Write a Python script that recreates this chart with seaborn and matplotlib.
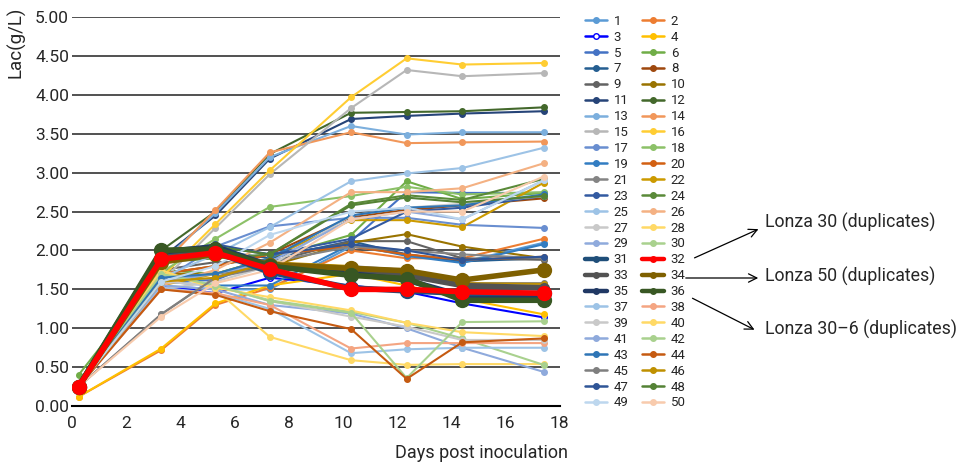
import matplotlib
matplotlib.use("Agg")
import matplotlib.pyplot as plt
from matplotlib.lines import Line2D
import seaborn as sns
import pandas as pd

sns.set_style("white")
plt.rcParams['font.family'] = ['Roboto', 'DejaVu Sans']

days = [0.25, 3.3, 5.3, 7.3, 10.3, 12.35, 14.4, 17.4]

lac_01 = [0.25, 1.55, 1.50, 1.50, 2.05, 1.95, 1.85, 2.10]
lac_02 = [0.12, 0.72, 1.30, 1.52, 2.00, 1.90, 1.90, 2.15]
lac_03 = [0.25, 1.55, 1.45, 1.65, 1.55, 1.47, 1.32, 1.14]
lac_04 = [0.12, 0.74, 1.32, 1.55, 1.70, 1.55, 1.38, 1.18]
lac_05 = [0.25, 1.60, 1.62, 1.90, 2.12, 2.75, 2.74, 2.74]
lac_06 = [0.40, 1.75, 1.70, 1.90, 2.20, 2.89, 2.66, 2.74]
lac_07 = [0.25, 1.90, 2.00, 1.90, 2.12, 1.95, 1.86, 1.90]
lac_08 = [0.25, 1.70, 1.80, 1.95, 2.43, 2.52, 2.58, 2.67]
lac_09 = [0.25, 1.75, 1.85, 1.85, 2.12, 2.12, 1.90, 1.88]
lac_10 = [0.25, 1.70, 1.70, 1.80, 2.10, 2.21, 2.05, 1.90]
lac_11 = [0.25, 1.90, 2.45, 3.18, 3.69, 3.73, 3.76, 3.79]
lac_12 = [0.25, 2.00, 2.50, 3.24, 3.77, 3.78, 3.79, 3.84]
lac_13 = [0.25, 1.85, 2.48, 3.20, 3.60, 3.49, 3.52, 3.52]
lac_14 = [0.25, 1.80, 2.52, 3.26, 3.52, 3.38, 3.39, 3.40]
lac_15 = [0.25, 1.60, 2.29, 2.98, 3.83, 4.32, 4.24, 4.28]
lac_16 = [0.25, 1.65, 2.34, 3.03, 3.97, 4.47, 4.39, 4.41]
lac_17 = [0.25, 1.60, 2.05, 2.31, 2.42, 2.42, 2.33, 2.29]
lac_18 = [0.25, 1.72, 2.15, 2.56, 2.70, 2.82, 2.72, 2.75]
lac_19 = [0.25, 1.60, 1.55, 1.55, 2.08, 1.93, 1.84, 2.08]
lac_20 = [0.25, 1.70, 1.80, 1.95, 2.05, 1.95, 1.88, 1.92]
lac_21 = [0.25, 1.18, 1.66, 1.85, 2.05, 2.00, 1.95, 1.90]
lac_22 = [0.25, 1.55, 1.70, 1.90, 2.39, 2.39, 2.30, 2.87]
lac_23 = [0.25, 1.95, 2.05, 1.95, 2.15, 2.50, 2.55, 2.70]
lac_24 = [0.25, 1.85, 1.90, 1.95, 2.60, 2.71, 2.65, 2.92]
lac_25 = [0.25, 1.65, 1.95, 2.30, 2.89, 2.99, 3.06, 3.32]
lac_26 = [0.25, 1.55, 1.75, 2.10, 2.75, 2.75, 2.80, 3.12]
lac_27 = [0.25, 1.50, 1.60, 1.80, 2.45, 2.55, 2.60, 2.70]
lac_28 = [0.25, 1.75, 1.50, 0.89, 0.59, 0.53, 0.54, 0.54]
lac_29 = [0.25, 1.55, 1.50, 1.30, 1.19, 1.00, 0.75, 0.44]
lac_30 = [0.25, 1.70, 1.55, 1.36, 1.21, 1.07, 0.87, 0.53]
lac_31 = [0.25, 1.88, 1.98, 1.72, 1.52, 1.48, 1.45, 1.45]
lac_32 = [0.25, 1.89, 1.97, 1.76, 1.50, 1.50, 1.47, 1.45]
lac_33 = [0.25, 1.95, 2.02, 1.82, 1.72, 1.68, 1.55, 1.52]
lac_34 = [0.25, 1.85, 1.95, 1.82, 1.77, 1.74, 1.62, 1.75]
lac_35 = [0.25, 1.98, 2.05, 1.80, 1.70, 1.62, 1.42, 1.40]
lac_36 = [0.25, 2.00, 2.02, 1.80, 1.68, 1.64, 1.36, 1.36]
lac_37 = [0.25, 1.52, 1.45, 1.25, 0.68, 0.73, 0.75, 0.75]
lac_38 = [0.25, 1.50, 1.45, 1.30, 0.74, 0.81, 0.81, 0.81]
lac_39 = [0.25, 1.60, 1.55, 1.35, 1.15, 1.02, 0.85, 0.85]
lac_40 = [0.25, 1.72, 1.52, 1.40, 1.23, 1.07, 0.95, 0.90]
lac_41 = [0.25, 1.60, 1.70, 1.85, 2.40, 2.50, 2.40, 2.90]
lac_42 = [0.25, 1.70, 1.55, 1.35, 1.20, 0.36, 1.08, 1.09]
lac_43 = [0.25, 1.65, 1.70, 1.90, 2.45, 2.55, 2.58, 2.72]
lac_44 = [0.25, 1.50, 1.43, 1.22, 0.99, 0.35, 0.82, 0.87]
lac_45 = [0.25, 1.18, 1.65, 1.80, 1.80, 1.75, 1.58, 1.58]
lac_46 = [0.25, 1.60, 1.65, 1.85, 1.80, 1.72, 1.58, 1.57]
lac_47 = [0.25, 1.95, 2.08, 1.95, 2.08, 2.00, 1.88, 1.92]
lac_48 = [0.25, 2.02, 2.05, 1.95, 2.58, 2.68, 2.62, 2.70]
lac_49 = [0.25, 1.60, 1.80, 2.20, 2.50, 2.55, 2.40, 2.90]
lac_50 = [0.25, 1.15, 1.58, 1.75, 2.40, 2.50, 2.50, 2.95]

series_values = [lac_01, lac_02, lac_03, lac_04, lac_05, lac_06, lac_07, lac_08, lac_09, lac_10,
                 lac_11, lac_12, lac_13, lac_14, lac_15, lac_16, lac_17, lac_18, lac_19, lac_20,
                 lac_21, lac_22, lac_23, lac_24, lac_25, lac_26, lac_27, lac_28, lac_29, lac_30,
                 lac_31, lac_32, lac_33, lac_34, lac_35, lac_36, lac_37, lac_38, lac_39, lac_40,
                 lac_41, lac_42, lac_43, lac_44, lac_45, lac_46, lac_47, lac_48, lac_49, lac_50]
series_names = [str(i) for i in range(1, 51)]

colors = ["#5B9BD5", "#ED7D31", "#0000FF", "#FFC000", "#4472C4", "#70AD47", "#255E91", "#9E480E",
          "#636363", "#997300", "#264478", "#43682B", "#7CAFDD", "#F1975A", "#B7B7B7", "#FFCD33",
          "#698ED0", "#8CC168", "#327DC2", "#D26012", "#848484", "#CC9A00", "#335AA1", "#5A8A39",
          "#9DC3E6", "#F4B183", "#C9C9C9", "#FFD966", "#8FAADC", "#A9D18E", "#1F4E79", "#FF0000",
          "#525252", "#7F6000", "#203864", "#385723", "#9DC3E6", "#F4A582", "#C9C9C9", "#FFD966",
          "#8FAADC", "#A9D18E", "#2E75B6", "#C55A11", "#7F7F7F", "#BF9000", "#2F5597", "#548235",
          "#BDD7EE", "#F8CBAD"]

thick = {"31", "32", "33", "34", "35", "36"}
big_marker = {"31", "32", "34", "36"}

fig = plt.figure(figsize=(9.57, 4.62), dpi=100)
ax = fig.add_axes([0.075, 0.121, 0.510, 0.842])

order = [n for n in series_names if n not in thick] + ["33", "35", "31", "34", "36", "32"]
handles = {}
for name in order:
    i = int(name) - 1
    c = colors[i]
    df = pd.DataFrame({"day": days, "lac": series_values[i]})
    lw = 4.0 if name in thick else 1.5
    ms = 10 if name in big_marker else (7 if name in thick else 4)
    mfc = "white" if name == "3" else c
    z = 5 if name in thick else 3
    if name == "32":
        z = 6
    sns.lineplot(data=df, x="day", y="lac", ax=ax, color=c, linewidth=lw, marker="o",
                 markersize=ms, markeredgecolor=c, markerfacecolor=mfc, markeredgewidth=1.0,
                 legend=False, zorder=z, estimator=None)
    handles[name] = Line2D([0], [0], color=c, linewidth=(3.2 if name in thick else 1.8),
                           marker="o", markersize=4, markerfacecolor=mfc, markeredgecolor=c)

ax.set_xlim(0, 18)
ax.set_ylim(0, 5)
ax.set_xticks(range(0, 19, 2))
ax.set_yticks([0, 0.5, 1, 1.5, 2, 2.5, 3, 3.5, 4, 4.5, 5])
ax.set_yticklabels([f"{v:.2f}" for v in ax.get_yticks()])
ax.grid(axis="y", color="#222222", linewidth=1.1)
ax.grid(axis="x", visible=False)
ax.set_axisbelow(True)
for s in ["top", "right", "left"]:
    ax.spines[s].set_visible(False)
ax.spines["bottom"].set_color("black")
ax.spines["bottom"].set_linewidth(1.5)
ax.tick_params(axis="x", direction="out", length=5, width=1.2, color="black", labelsize=12.5, pad=2)
ax.tick_params(axis="y", length=0, labelsize=12.5, pad=2)
ax.set_xlabel("Days post inoculation", fontsize=13, loc="right")
ax.xaxis.set_label_coords(1.016, -0.098)
ax.set_ylabel("Lac(g/L)", fontsize=13.5, loc="top")
ax.yaxis.set_label_coords(-0.094, 1.028)

leg_order = [str(i) for i in range(1, 51, 2)] + [str(i) for i in range(2, 51, 2)]
fig.legend([handles[n] for n in leg_order], leg_order, ncol=2, loc="upper left",
           bbox_to_anchor=(0.611, 0.968), frameon=False, fontsize=9.5, handlelength=1.7,
           handletextpad=0.5, columnspacing=1.0, labelspacing=0.22, borderpad=0, borderaxespad=0)

fs = 12.8
fig.text(765 / 957, 1 - 222 / 462, "Lonza 30 (duplicates)", fontsize=fs, va="center", ha="left")
fig.text(765 / 957, 1 - 276 / 462, "Lonza 50 (duplicates)", fontsize=fs, va="center", ha="left")
fig.text(765 / 957, 1 - 329 / 462, "Lonza 30\u20136 (duplicates)", fontsize=fs, va="center", ha="left")
arrows = [((692, 259), (761, 228)), ((683, 278), (761, 278)), ((690, 297), (757, 331))]
for (x0, y0), (x1, y1) in arrows:
    fig.add_artist(matplotlib.patches.FancyArrowPatch(
        (x0 / 957, 1 - y0 / 462), (x1 / 957, 1 - y1 / 462), transform=fig.transFigure,
        arrowstyle="->,head_length=6,head_width=3", color="black", linewidth=0.9,
        mutation_scale=1))

fig.savefig("out.png", dpi=100)
